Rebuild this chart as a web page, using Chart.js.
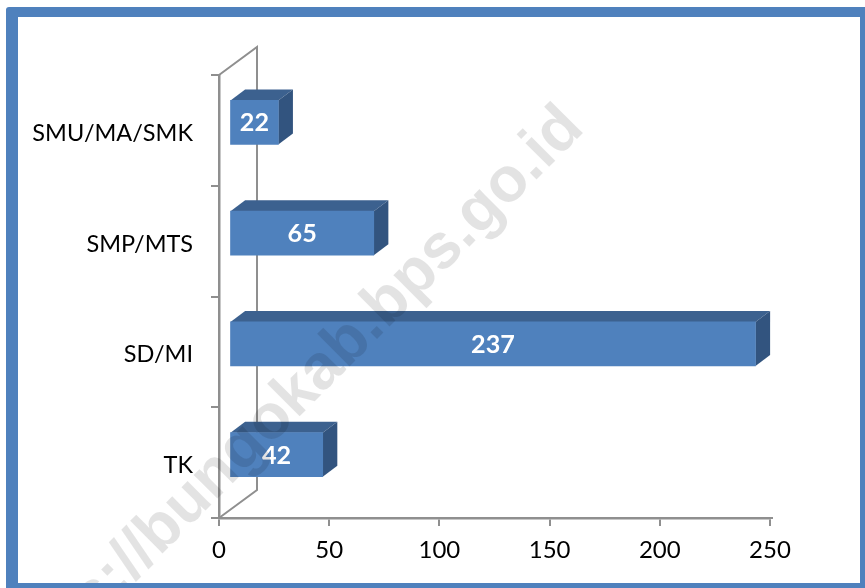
<!DOCTYPE html>
<html>
<head>
<meta charset="utf-8">
<title>Bar chart</title>
<script src="https://cdn.jsdelivr.net/npm/chart.js@4/dist/chart.umd.min.js"></script>
<style>
	html, body { margin: 0; padding: 0; background: #fff; overflow: hidden; }
	#frame {
		position: absolute;
		left: 6px;
		top: 7px;
		width: 842px;
		height: 566px;
		border-style: solid;
		border-color: #4f81bd;
		border-width: 10px 5px 5px 12px;
		border-top-left-radius: 3px;
	}
	canvas { display: block; }
</style>
</head>
<body>
<div id="frame"><canvas id="chart" width="842" height="566"></canvas></div>
<script>
	var categories = ['TK', 'SD/MI', 'SMP/MTS', 'SMU/MA/SMK'];
	var values = [42, 237, 65, 22];
	var xTicks = [0, 50, 100, 150, 200, 250];
	var watermark = 'https://bungokab.bps.go.id';

	var fontFamily = 'Lato, "Open Sans", sans-serif';
	var axisColor = '#8f8f8f';
	var wallDepth = { x: 38, y: -28 };
	var barShift = { x: 10.5, y: -8 };
	var barDepth = { x: 14.5, y: -11 };
	var barStretch = 1.007; // bars sit further back, the perspective widens them a little

	function polygon(ctx, points, fill) {
		ctx.beginPath();
		points.forEach(function(p, i) {
			if (i === 0) ctx.moveTo(p[0], p[1]);
			else ctx.lineTo(p[0], p[1]);
		});
		ctx.closePath();
		ctx.fillStyle = fill;
		ctx.fill();
	}

	function moveToBarPlane(chart) {
		var ctx = chart.ctx;
		var left = chart.chartArea.left;
		ctx.translate(left + barShift.x, barShift.y);
		ctx.scale(barStretch, 1);
		ctx.translate(-left, 0);
	}

	// back wall and floor lines, then the bars get pushed into the depth
	var depthPlugin = {
		id: 'depth',
		beforeDatasetsDraw: function(chart) {
			var ctx = chart.ctx;
			var area = chart.chartArea;

			ctx.save();
			ctx.strokeStyle = axisColor;
			ctx.lineWidth = 2;
			ctx.beginPath();
			ctx.moveTo(area.left, area.top);
			ctx.lineTo(area.left + wallDepth.x, area.top + wallDepth.y);
			ctx.lineTo(area.left + wallDepth.x, area.bottom + wallDepth.y);
			ctx.lineTo(area.left, area.bottom);
			ctx.moveTo(area.right, area.bottom);
			ctx.lineTo(area.right + 3, area.bottom);
			ctx.stroke();
			ctx.restore();

			ctx.save();
			moveToBarPlane(chart);
			chart.getDatasetMeta(0).data.forEach(function(bar) {
				var top = bar.y - bar.height / 2;
				var bottom = bar.y + bar.height / 2;
				polygon(ctx, [
					[bar.base, top],
					[bar.base + barDepth.x, top + barDepth.y],
					[bar.x + barDepth.x, top + barDepth.y],
					[bar.x, top]
				], '#3c618f');
				polygon(ctx, [
					[bar.x, top],
					[bar.x + barDepth.x, top + barDepth.y],
					[bar.x + barDepth.x, bottom + barDepth.y],
					[bar.x, bottom]
				], '#32547f');
			});
		},
		afterDatasetsDraw: function(chart) {
			chart.ctx.restore();
		},
		afterDraw: function(chart) {
			var ctx = chart.ctx;

			ctx.save();
			moveToBarPlane(chart);
			ctx.fillStyle = '#fff';
			ctx.font = 'bold 25px ' + fontFamily;
			ctx.textAlign = 'center';
			ctx.textBaseline = 'middle';
			chart.getDatasetMeta(0).data.forEach(function(bar, i) {
				ctx.fillText(values[i], (bar.base + bar.x) / 2, bar.y + 1);
			});
			ctx.restore();

			ctx.save();
			ctx.translate(568, 113);
			ctx.rotate(-Math.PI / 4);
			ctx.fillStyle = 'rgba(0,0,0,0.11)';
			ctx.font = 'bold 63.5px "Liberation Sans", sans-serif';
			ctx.textAlign = 'right';
			ctx.textBaseline = 'alphabetic';
			ctx.fillText(watermark, 0, 0);
			ctx.restore();
		}
	};

	new Chart(document.getElementById('chart'), {
		type: 'bar',
		data: {
			labels: categories,
			datasets: [{
				data: values,
				backgroundColor: '#4f81bd',
				borderWidth: 0,
				barThickness: 44
			}]
		},
		options: {
			indexAxis: 'y',
			responsive: false,
			animation: false,
			devicePixelRatio: 1,
			layout: { padding: { left: 0, top: 58, right: 90, bottom: 0 } },
			plugins: {
				legend: { display: false },
				tooltip: { enabled: false }
			},
			scales: {
				x: {
					min: 0,
					max: 250,
					afterFit: function(scale) { scale.height = 65; },
					afterBuildTicks: function(scale) {
						scale.ticks = xTicks.map(function(v) { return { value: v }; });
					},
					grid: { drawOnChartArea: false, color: axisColor, lineWidth: 2, tickLength: 8 },
					border: { color: axisColor, width: 2.5 },
					ticks: {
						color: '#000',
						maxRotation: 0,
						padding: 10,
						font: { family: fontFamily, size: 24 }
					}
				},
				y: {
					reverse: true,
					afterFit: function(scale) { scale.width = 201; },
					grid: { drawOnChartArea: false, color: axisColor, lineWidth: 2, tickLength: 8 },
					border: { color: axisColor, width: 2.5 },
					ticks: {
						color: '#000',
						padding: 18,
						labelOffset: 3,
						font: { family: fontFamily, size: 23.5 }
					}
				}
			}
		},
		plugins: [depthPlugin]
	});
</script>
</body>
</html>
